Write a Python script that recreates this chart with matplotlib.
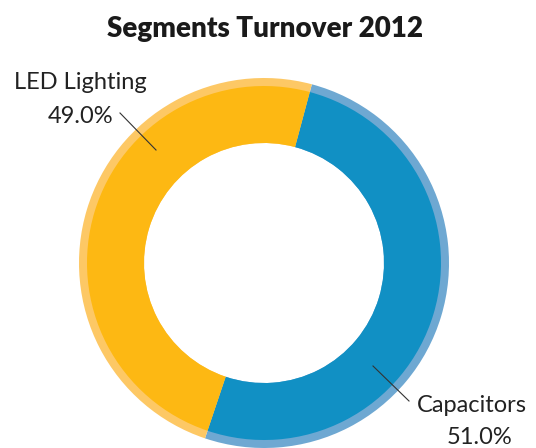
import matplotlib
matplotlib.use("Agg")
import matplotlib.pyplot as plt

segments = ["Capacitors", "LED Lighting"]
shares = [51.0, 49.0]
colors = ["#1190c4", "#fdb813"]
light_colors = ["#6ea8d2", "#fdc865"]

plt.rcParams['font.family'] = ['Lato', 'DejaVu Sans']

fig = plt.figure(figsize=(5.36, 4.48), dpi=100)
ax = fig.add_axes([0, 0, 1, 1])

cx, cy, r = 264, 185, 185
# outer light rim
ax.pie(shares, colors=light_colors, startangle=75, counterclock=False,
       center=(cx, cy), radius=r, wedgeprops=dict(width=65, linewidth=0))
# main ring
ax.pie(shares, colors=colors, startangle=75, counterclock=False,
       center=(cx, cy), radius=r - 8, wedgeprops=dict(width=57, linewidth=0))

ax.set_xlim(0, 536)
ax.set_ylim(0, 448)
ax.set_aspect('equal')
ax.axis('off')

ax.text(265, 419, "Segments Turnover 2012", ha='center', va='center',
        fontsize=20, fontweight='heavy', color='#1a1a1a')

# labels with leader lines
ax.plot([120, 156], [448 - 113, 448 - 150], color='#333333', lw=0.8)
ax.text(80, 448 - 82, "LED Lighting", ha='center', va='center', fontsize=17, color='#222222')
ax.text(113, 448 - 116, f"{shares[1]:.1f}%", ha='right', va='center', fontsize=17, color='#222222')

ax.plot([373, 409], [448 - 366, 448 - 401], color='#333333', lw=0.8)
ax.text(417, 448 - 405, "Capacitors", ha='left', va='center', fontsize=17, color='#222222')
ax.text(480, 448 - 437, f"{shares[0]:.1f}%", ha='center', va='center', fontsize=17, color='#222222')

fig.savefig("out.png", dpi=100)
